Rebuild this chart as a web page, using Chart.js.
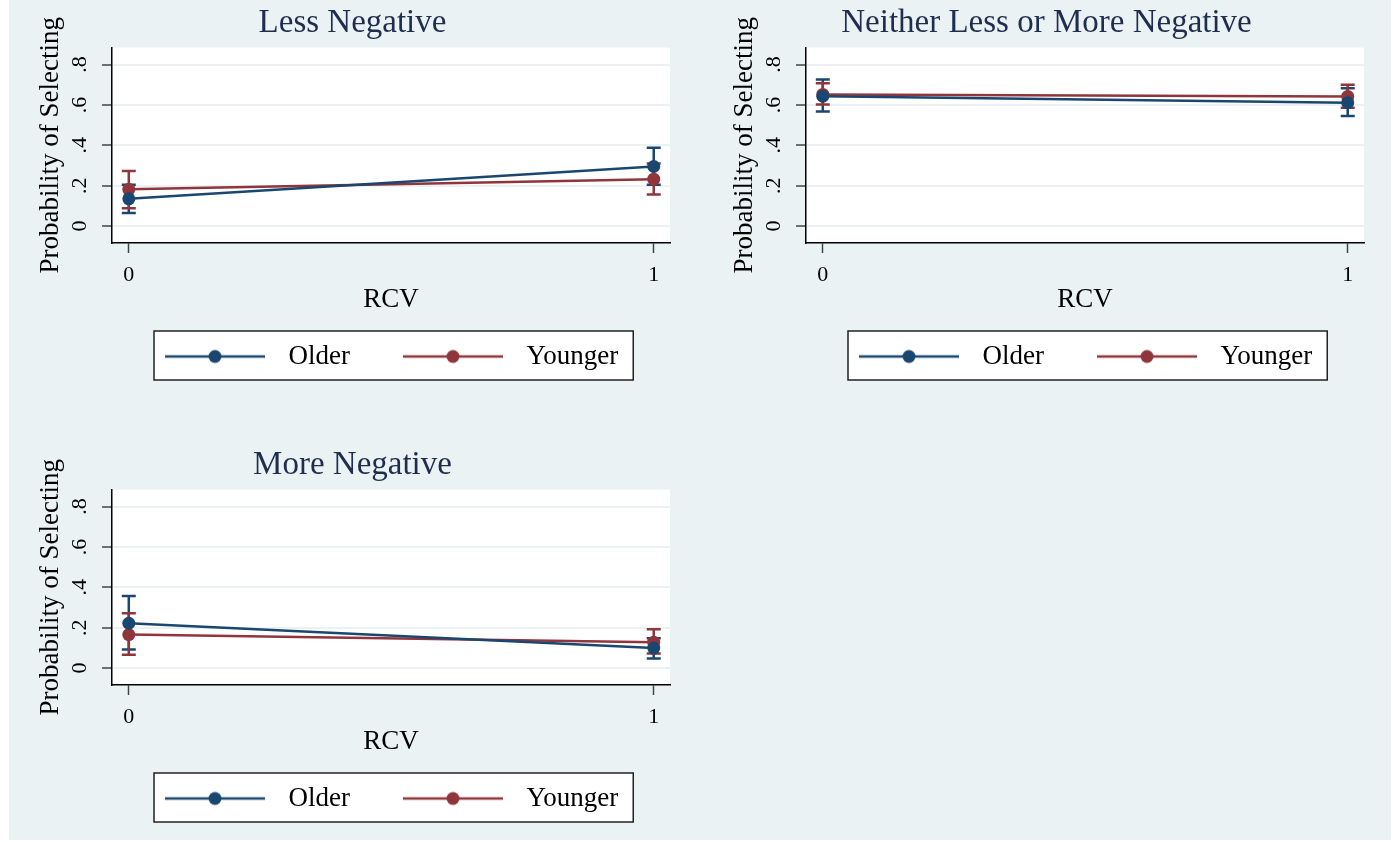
<!DOCTYPE html>
<html>
<head>
<meta charset="utf-8">
<script src="https://cdn.jsdelivr.net/npm/chart.js@4.4.0/dist/chart.umd.min.js"></script>
<style>
  body { margin: 0; background: #fff; }
  #graph { position: absolute; left: 9px; top: 0; width: 1382px; height: 840px; background: #eaf2f3; overflow: hidden; }
  canvas { position: absolute; }
</style>
</head>
<body>
<div id="graph">
  <canvas id="less" width="690" height="420" style="left:0;top:0"></canvas>
  <canvas id="neither" width="690" height="420" style="left:694px;top:0"></canvas>
  <canvas id="more" width="690" height="420" style="left:0;top:442px"></canvas>
</div>
<script>
// data
const rcv = [0, 1];
const yTicks = [0, 0.2, 0.4, 0.6, 0.8];
const groups = ['Older', 'Younger'];
const groupColors = ['#1a476f', '#90353b'];

// Less Negative
const lessOlder = [0.135, 0.295];
const lessOlderLo = [0.065, 0.205];
const lessOlderHi = [0.205, 0.388];
const lessYounger = [0.182, 0.232];
const lessYoungerLo = [0.088, 0.156];
const lessYoungerHi = [0.273, 0.31];

// Neither Less or More Negative
const neitherOlder = [0.643, 0.611];
const neitherOlderLo = [0.568, 0.545];
const neitherOlderHi = [0.726, 0.683];
const neitherYounger = [0.652, 0.642];
const neitherYoungerLo = [0.602, 0.586];
const neitherYoungerHi = [0.708, 0.70];

// More Negative
const moreOlder = [0.222, 0.099];
const moreOlderLo = [0.092, 0.047];
const moreOlderHi = [0.357, 0.147];
const moreYounger = [0.166, 0.128];
const moreYoungerLo = [0.066, 0.072];
const moreYoungerHi = [0.272, 0.192];

const serif = "'Liberation Serif', 'Times New Roman', serif";

// line + dot swatch like stata's legend keys
function swatch(color) {
  const c = document.createElement('canvas');
  c.width = 151; c.height = 16;
  const g = c.getContext('2d');
  g.strokeStyle = color; g.lineWidth = 2.5;
  g.beginPath(); g.moveTo(41, 8); g.lineTo(141, 8); g.stroke();
  g.fillStyle = color;
  g.beginPath(); g.arc(91, 8, 6.5, 0, Math.PI * 2); g.fill();
  return c;
}
const swatches = groupColors.map(swatch);

function legendRect(chart) {
  const lg = chart.legend, hb = lg.legendHitBoxes;
  const last = hb[hb.length - 1];
  return { left: hb[0].left + 30, right: last.left + last.width + 15, top: lg.top, bottom: lg.bottom };
}

const stataBits = {
  id: 'stataBits',
  beforeDraw(chart) {
    const { ctx, chartArea: a } = chart;
    const r = legendRect(chart);
    ctx.save();
    ctx.fillStyle = '#fff';
    ctx.fillRect(a.left, a.top, a.right - a.left, a.bottom - a.top);
    ctx.fillRect(r.left, r.top, r.right - r.left, r.bottom - r.top);
    ctx.restore();
  },
  // confidence interval caps
  beforeDatasetsDraw(chart) {
    const { ctx, scales: { x, y } } = chart;
    ctx.save();
    ctx.lineWidth = 2.5;
    chart.data.datasets.forEach(ds => {
      ctx.strokeStyle = ds.borderColor;
      ds.data.forEach((p, j) => {
        const px = x.getPixelForValue(p.x);
        const top = y.getPixelForValue(ds.hi[j]);
        const bot = y.getPixelForValue(ds.lo[j]);
        ctx.beginPath();
        ctx.moveTo(px, top); ctx.lineTo(px, bot);
        ctx.moveTo(px - 7, top); ctx.lineTo(px + 7, top);
        ctx.moveTo(px - 7, bot); ctx.lineTo(px + 7, bot);
        ctx.stroke();
      });
    });
    ctx.restore();
  },
  afterDraw(chart) {
    const { ctx } = chart;
    const r = legendRect(chart);
    ctx.save();
    ctx.strokeStyle = '#222'; ctx.lineWidth = 1.5;
    ctx.strokeRect(r.left, r.top, r.right - r.left, r.bottom - r.top);
    ctx.restore();
  }
};

function series(i, vals, lo, hi) {
  return {
    label: groups[i],
    data: rcv.map((x, j) => ({ x: x, y: vals[j] })),
    lo: lo, hi: hi,
    borderColor: groupColors[i],
    backgroundColor: groupColors[i],
    pointBackgroundColor: groupColors[i],
    pointBorderWidth: 0,
    pointRadius: 6.5,
    pointHoverRadius: 6.5,
    borderWidth: 2.6,
    tension: 0
  };
}

function makePanel(id, title, older, younger) {
  new Chart(document.getElementById(id), {
    type: 'line',
    data: { datasets: [series(0, ...older), series(1, ...younger)] },
    plugins: [stataBits],
    options: {
      responsive: false,
      animation: false,
      devicePixelRatio: 1,
      layout: { padding: { left: 26, right: 29, top: 0, bottom: 40 } },
      plugins: {
        title: {
          display: true, text: title, color: '#1f2d4f',
          font: { family: serif, size: 33, weight: 'normal' },
          padding: { top: 4, bottom: 4 }
        },
        legend: {
          position: 'bottom', align: 'start', fullSize: false,
          labels: {
            usePointStyle: true, pointStyleWidth: 151, padding: 12,
            color: '#000', font: { family: serif, size: 27 },
            generateLabels: chart => chart.data.datasets.map((ds, i) => ({
              text: ds.label, pointStyle: swatches[i], datasetIndex: i,
              fillStyle: 'transparent', strokeStyle: 'transparent', lineWidth: 0, fontColor: '#000'
            }))
          }
        },
        tooltip: { enabled: false }
      },
      scales: {
        x: {
          type: 'linear', min: -0.032, max: 1.031,
          afterBuildTicks: s => { s.ticks = rcv.map(v => ({ value: v })); },
          afterFit: s => { s.height = 88; s.paddingLeft = 0; s.paddingRight = 0; },
          ticks: { color: '#000', font: { family: serif, size: 22 }, padding: 9, maxRotation: 0 },
          grid: { drawOnChartArea: false, tickLength: 10, tickColor: '#444', tickWidth: 1.5 },
          border: { color: '#000', width: 1.5 },
          title: { display: true, text: 'RCV', color: '#000', font: { family: serif, size: 27 }, padding: { top: 0, bottom: 15 } }
        },
        y: {
          min: -0.084, max: 0.884,
          afterBuildTicks: s => { s.ticks = yTicks.map(v => ({ value: v })); },
          afterFit: s => { s.width = 77; s.paddingTop = 0; s.paddingBottom = 0; },
          ticks: {
            color: '#000', font: { family: serif, size: 22 }, padding: 14,
            minRotation: 90, maxRotation: 90, crossAlign: 'center',
            callback: v => v === 0 ? '0' : String(v).replace(/^0/, '')
          },
          grid: { color: '#eaf2f3', lineWidth: 2, tickLength: 10, tickColor: '#444', tickWidth: 1.5 },
          border: { color: '#000', width: 1.5 },
          title: { display: true, text: 'Probability of Selecting', color: '#000', font: { family: serif, size: 27 }, padding: { top: 0, bottom: 0 } }
        }
      }
    }
  });
}

makePanel('less', 'Less Negative',
  [lessOlder, lessOlderLo, lessOlderHi], [lessYounger, lessYoungerLo, lessYoungerHi]);
makePanel('neither', 'Neither Less or More Negative',
  [neitherOlder, neitherOlderLo, neitherOlderHi], [neitherYounger, neitherYoungerLo, neitherYoungerHi]);
makePanel('more', 'More Negative',
  [moreOlder, moreOlderLo, moreOlderHi], [moreYounger, moreYoungerLo, moreYoungerHi]);
</script>
</body>
</html>
